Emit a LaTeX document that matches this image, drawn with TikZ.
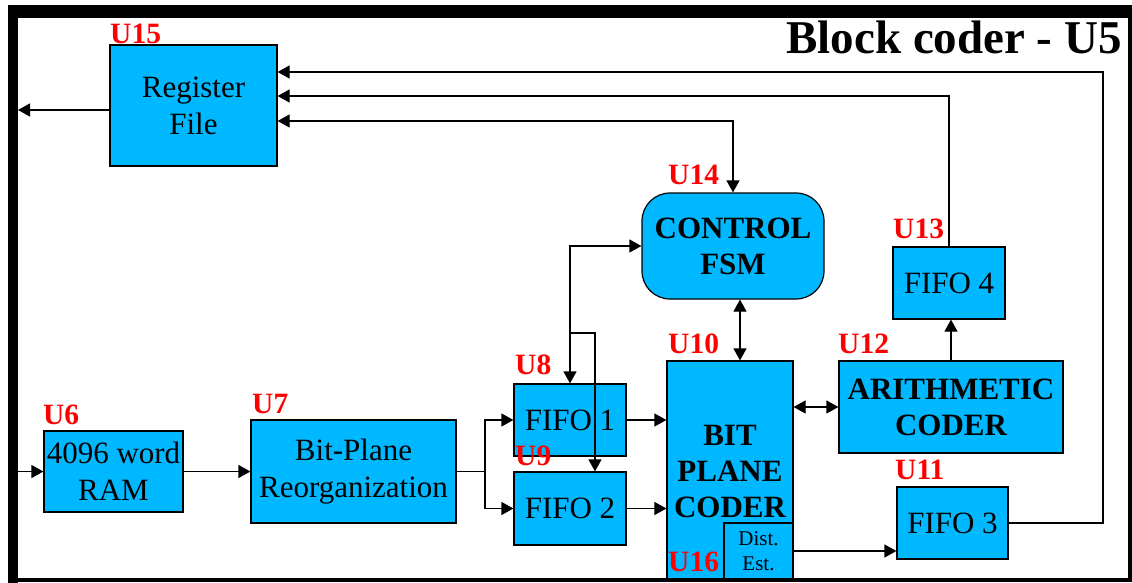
\documentclass[tikz,border=0pt]{standalone}
\usepackage{fontspec}
\setmainfont{Liberation Serif}
\usepackage{xcolor}
\usetikzlibrary{arrows.meta}
\definecolor{ublue}{RGB}{0,184,255}
\definecolor{ured}{RGB}{255,0,0}
\tikzset{
  blk/.style={draw, fill=ublue, line width=1.2, inner sep=0, align=center,
    font=\fontsize{31}{37}\selectfont},
  bblk/.style={blk, font=\fontsize{31}{36}\selectfont\bfseries},
  ulab/.style={anchor=base west, inner sep=0, color=ured,
    font=\fontsize{29.5}{30}\selectfont\bfseries},
  wire/.style={line width=1.2},
}

\begin{document}
\begin{tikzpicture}[x=1pt, y=-1pt, >={Triangle[length=12pt,width=13pt]}]
\useasboundingbox (0,0) rectangle (1132,583);
%blocks
\node[blk, minimum width=167, minimum height=121] (reg) at (193.5,105.5) {Register\\File};
\node[bblk, rounded corners=28, minimum width=182, minimum height=106] (fsm) at (733,246) {CONTROL\\FSM};
\node[blk, minimum width=112, minimum height=72] (fifo4) at (949,283) {FIFO 4};
\node[bblk, minimum width=224, minimum height=92] (arith) at (951,407) {ARITHMETIC\\CODER};
\node[blk, minimum width=111, minimum height=72] (fifo3) at (952.5,523) {FIFO 3};
\node[bblk, minimum width=126, minimum height=220] (bpc) at (730,471) {BIT\\PLANE\\CODER};
\node[blk, line width=2.5, minimum width=69, minimum height=56,
  font=\fontsize{21}{25}\selectfont] (dist) at (758.5,551) {Dist.\\Est.};
\node[blk, minimum width=112, minimum height=72] (fifo1) at (570,420) {FIFO 1};
\node[blk, minimum width=112, minimum height=73] (fifo2) at (570,508.5) {FIFO 2};
\node[blk, minimum width=139, minimum height=81] (ram) at (113.5,471.5) {4096 word\\RAM};
\node[blk, minimum width=205, minimum height=103] (bpr) at (353.5,471.5) {Bit-Plane\\Reorganization};

%labels
\foreach \u/\x/\y in {15/110/44, 14/668/184, 13/893/238, 12/838/353, 11/895/479,
  10/668/353, 8/515/374, 9/515/465, 16/668/571, 6/43/424, 7/252/413}{
  \node[ulab] (u\u) at (\x,\y) {U\u};
}
\node[anchor=base east, inner sep=0, font=\fontsize{47}{50}\selectfont\bfseries] (title) at (1122,54) {Block coder - U5};

%feedback to register file
\coordinate (fb1) at (1103,72);
\coordinate (fb2) at (0,96);
\coordinate (fb3) at (0,121);
\draw[wire,->] (fifo3.east) -| (fb1) -- (reg.east |- fb1);
\draw[wire,->] (fifo4.north) |- (reg.east |- fb2);
\draw[wire,<->] (fsm.north) |- (reg.east |- fb3);
\coordinate (outL) at (18,110);
\draw[wire,->] (reg.west |- outL) -- (outL);

%control paths
\draw[wire,<->] ([xshift=7pt]fsm.south) -- ([xshift=7pt]fsm.south |- bpc.north);
\draw[wire,<->] (fsm.west) -| (fifo1.north);
\coordinate (br) at (569,333);
\draw[wire,->] (br) -| ([xshift=25pt]fifo2.north);

%data paths
\coordinate (inL) at (18,471.5);
\draw[wire,->] (inL) -- (ram.west);
\draw[wire,->] (ram.east) -- (bpr.west);
\coordinate (sp) at (485,471.5);
\draw[wire] (bpr.east) -- (sp);
\draw[wire,->] (sp) |- (fifo1.west);
\draw[wire,->] (sp) |- (fifo2.west);
\draw[wire,->] (fifo1.east) -- (fifo1.east -| bpc.west);
\draw[wire,->] (fifo2.east) -- (fifo2.east -| bpc.west);
\draw[wire,<->] (arith.west) -- (arith.west -| bpc.east);
\draw[wire,->] (arith.north) -- (arith.north |- fifo4.south);
\draw[wire,->] (dist.east) -- (dist.east -| fifo3.west);

%frame
\fill (8,5) rectangle (18,583);
\fill (8,5) rectangle (1132,18);
\draw[line width=4] (18,579.5) -- (1129.5,579.5) -- (1129.5,18);
\end{tikzpicture}
\end{document}
